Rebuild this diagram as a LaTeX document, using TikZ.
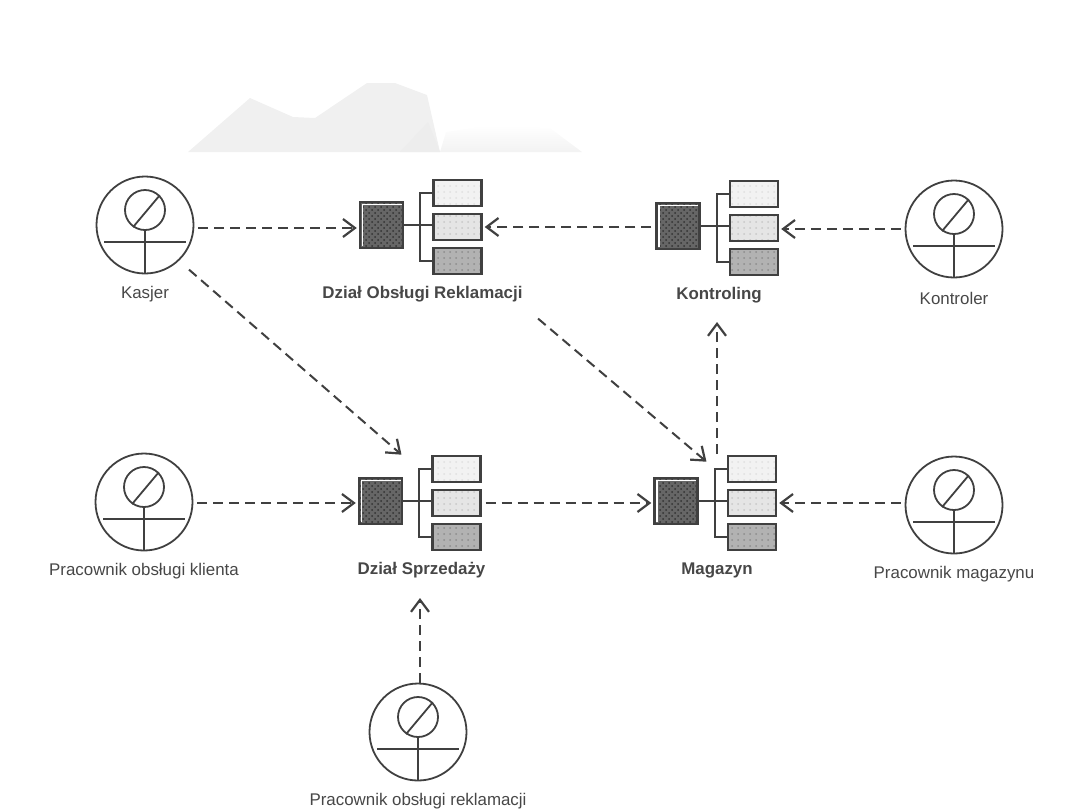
\documentclass[tikz,border=0pt]{standalone}
\usepackage{fontspec}
\setmainfont{Liberation Sans}
\usetikzlibrary{arrows.meta, patterns}

\begin{document}
\begin{tikzpicture}[x=0.5pt, y=-0.5pt,
  person/.style={circle, draw=black!75, line width=0.9pt, minimum size=48.5pt, inner sep=0pt},
  mainbox/.style={rectangle, draw=black!75, line width=1.2pt, preaction={fill=black!60},
    pattern=crosshatch dots, pattern color=black!80, minimum width=21.5pt, minimum height=23pt, inner sep=0pt},
  subbox/.style={rectangle, draw=black!75, line width=1.2pt, minimum width=24pt, minimum height=13pt, inner sep=0pt},
  wire/.style={black!75, line width=0.9pt},
  flow/.style={black!75, line width=1pt, dash pattern=on 5pt off 3pt, shorten <=2pt, shorten >=1pt,
    -{Straight Barb[length=6pt, width=9pt, line width=1.1pt]}},
  txt/.style={font=\fontsize{8.45}{10}\selectfont, text=black!72, inner sep=0pt},
  btxt/.style={txt, font=\fontsize{8.45}{10}\selectfont\bfseries}]

\useasboundingbox (0,0) rectangle (1080,810);

% faint shapes above the diagram
\fill[black!6] (188,152) -- (250,98) -- (293,117) -- (315,118) -- (367,83) -- (395,83)
  -- (427,95) -- (440,152) -- cycle;
\fill[black!7] (400,152) -- (428,122) -- (440,152) -- cycle;
\path[top color=white, bottom color=black!5] (440,152) -- (446,132) -- (490,125) -- (550,128) -- (582,152) -- cycle;

% #1 name, #2 x, #3 y, #4 label
\def\actor#1#2#3#4{
  \node[person] (#1) at (#2,#3) {};
  \node[circle, draw=black!75, line width=0.9pt, minimum size=20pt, inner sep=0pt] (#1h) at ([shift={(0,-15)}]#1) {};
  \draw[wire] (#1h.south) -- (#1.south);
  \draw[wire] ([shift={(-41,17)}]#1.center) -- ([shift={(41,17)}]#1.center);
  \draw[wire] (#1h.235) -- (#1h.45);
  \node[txt] (#1l) at ([shift={(0,69)}]#1) {#4};
}

% #1 name, #2 x, #3 y, #4 label
\def\unit#1#2#3#4{
  \node[mainbox] (#1) at (#2,#3) {};
  \draw[white, line width=0.7pt] ([shift={(3.5,-3)}]#1.south west) |- ([shift={(-2.5,3.5)}]#1.north east);
  \node[subbox, preaction={fill=black!5}, pattern=dots, pattern color=black!12] (#1a) at ([shift={(76,-32)}]#1) {};
  \node[subbox, preaction={fill=black!10}, pattern=dots, pattern color=black!22] (#1b) at ([shift={(76,2)}]#1) {};
  \node[subbox, preaction={fill=black!30}, pattern=dots, pattern color=black!45] (#1c) at ([shift={(76,36)}]#1) {};
  \draw[wire] (#1.east) -- (#1.east -| #1b.west);
  \draw[wire] (#1a.west) -- ++(-12,0) |- (#1c.west);
  \node[btxt] (#1l) at ([shift={(41,69)}]#1) {#4};
}

\actor{kasjer}{145}{225}{Kasjer}
\actor{kontroler}{954}{229}{Kontroler}
\actor{klient}{144}{502}{Pracownik obsługi klienta}
\actor{pmag}{954}{505}{Pracownik magazynu}
\actor{prekl}{418}{732}{Pracownik obsługi reklamacji}

\unit{rekl}{381.5}{225}{Dział Obsługi Reklamacji}
\unit{kontr}{678}{226}{Kontroling}
\unit{sprz}{380.5}{501}{Dział Sprzedaży}
\unit{mag}{676}{501}{Magazyn}

\coordinate (sprztop) at (403,456);
\coordinate (magtop) at (708,463);
\coordinate (kontrlow) at (717,320);
\coordinate (reklow) at (535,316);
\coordinate (kasjlow) at (186,267);
\coordinate (magup) at (717,458);
\coordinate (sprzlow) at (420,596);

\draw[flow] ([yshift=-1.5pt]kasjer.east) -- ([yshift=-1.5pt]kasjer.east -| rekl.west);
\draw[flow] (kontr.west |- reklb) -- (reklb.east);
\draw[flow] (kontroler.west) -- (kontroler.west -| kontrb.east);
\draw[flow] (kasjlow) -- (sprztop);
\draw[flow] (reklow) -- (magtop);
\draw[flow] (klient.east |- sprzb) -- (sprz.west |- sprzb);
\draw[flow] (sprzb.east) -- (sprzb.east -| mag.west);
\draw[flow] (pmag.west |- magb) -- (magb.east);
\draw[flow] (magup) -- (kontrlow);
\draw[flow, shorten <=0pt] (sprzlow |- prekl.north) -- (sprzlow);

\end{tikzpicture}
\end{document}
